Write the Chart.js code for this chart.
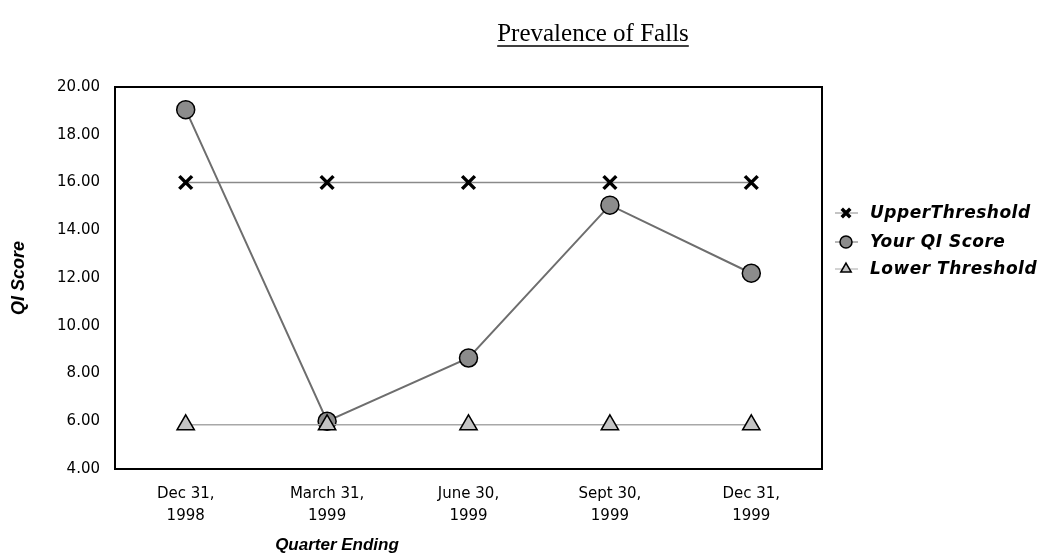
<!DOCTYPE html>
<html>
<head>
<meta charset="utf-8">
<script src="https://cdn.jsdelivr.net/npm/chart.js@4"></script>
<style>
  html, body { margin: 0; padding: 0; background: #fff; }
  #wrap { width: 1048px; height: 560px; }
</style>
</head>
<body>
<div id="wrap"><canvas id="falls-chart"></canvas></div>
<script>
var quarters = [['Dec 31,', '1998'], ['March 31,', '1999'], ['June 30,', '1999'], ['Sept 30,', '1999'], ['Dec 31,', '1999']];
var upperThreshold = [16, 16, 16, 16, 16];
var yourScore = [19.05, 6.0, 8.65, 15.05, 12.2];
var lowerThreshold = [5.85, 5.85, 5.85, 5.85, 5.85];
var seriesNames = ['UpperThreshold', 'Your QI Score', 'Lower Threshold'];

(function() {
  var ctx = document.getElementById('falls-chart').getContext('2d');

  // title, x title, plot frame and legend drawn on top
  var extras = {
    id: 'extras',
    afterDatasetsDraw: function(chart) {
      var c = chart.ctx, a = chart.chartArea;
      c.save();
      c.strokeStyle = '#000';
      c.lineWidth = 2;
      c.strokeRect(a.left, a.top, a.right - a.left, a.bottom - a.top);

      c.fillStyle = '#000';
      c.font = '25px "Liberation Serif", serif';
      c.textAlign = 'center';
      c.textBaseline = 'alphabetic';
      var t = 'Prevalence of Falls', tx = 593, w = c.measureText(t).width;
      c.fillText(t, tx, 41);
      c.lineWidth = 1.5;
      c.beginPath();
      c.moveTo(tx - w / 2, 46);
      c.lineTo(tx + w / 2, 46);
      c.stroke();

      c.font = 'italic bold 17px "Liberation Sans", Arial, sans-serif';
      c.textBaseline = 'middle';
      c.fillText('Quarter Ending', 337, 545);

      // legend
      c.font = 'italic bold 17px "DejaVu Sans", sans-serif';
      c.letterSpacing = '0.5px';
      c.textAlign = 'left';
      var ys = [213, 242, 269];
      chart.data.datasets.forEach(function(ds, i) {
        c.strokeStyle = ds.borderColor;
        c.lineWidth = 1;
        c.beginPath();
        c.moveTo(835, ys[i]);
        c.lineTo(858, ys[i]);
        c.stroke();
        c.fillStyle = ds.pointBackgroundColor;
        c.strokeStyle = '#000';
        c.lineWidth = ds.pointBorderWidth;
        Chart.helpers.drawPoint(c, { pointStyle: ds.pointStyle, radius: 6, borderWidth: ds.pointBorderWidth }, 846, ys[i]);
        c.fillStyle = '#000';
        c.fillText(ds.label, 870, ys[i] + 1);
      });
      c.restore();
    }
  };

  new Chart(ctx, {
    type: 'line',
    data: {
      labels: quarters,
      datasets: [
        {
          label: seriesNames[0],
          data: upperThreshold,
          borderColor: '#8a8a8a',
          borderWidth: 1.5,
          pointStyle: 'crossRot',
          pointRadius: 9,
          pointBorderWidth: 3.5,
          pointBorderColor: '#000',
          pointBackgroundColor: '#000',
          order: 2
        },
        {
          label: seriesNames[1],
          data: yourScore,
          borderColor: '#6e6e6e',
          borderWidth: 2,
          pointStyle: 'circle',
          pointRadius: 9,
          pointBorderWidth: 1.5,
          pointBorderColor: '#000',
          pointBackgroundColor: '#8c8c8c',
          order: 1
        },
        {
          label: seriesNames[2],
          data: lowerThreshold,
          borderColor: '#a8a8a8',
          borderWidth: 1.5,
          pointStyle: 'triangle',
          pointRadius: 10,
          pointBorderWidth: 1.5,
          pointBorderColor: '#000',
          pointBackgroundColor: '#c4c4c4',
          order: 0
        }
      ]
    },
    options: {
      responsive: true,
      maintainAspectRatio: false,
      animation: false,
      layout: { padding: { top: 87, right: 226, left: 0, bottom: 0 } },
      plugins: {
        legend: { display: false },
        tooltip: { enabled: false },
        title: { display: false }
      },
      scales: {
        x: {
          offset: true,
          grid: { display: false },
          border: { display: false },
          ticks: {
            color: '#000',
            padding: 6,
            maxRotation: 0,
            autoSkip: false,
            font: { family: '"DejaVu Sans", sans-serif', size: 15, lineHeight: 1.45 }
          },
          afterFit: function(scale) { scale.height = 91; }
        },
        y: {
          min: 4,
          max: 20,
          grid: { display: false },
          border: { display: false },
          ticks: {
            stepSize: 2,
            color: '#000',
            padding: 7,
            font: { family: '"DejaVu Sans", sans-serif', size: 15 },
            callback: function(v) { return v.toFixed(2); }
          },
          title: {
            display: true,
            text: 'QI Score',
            color: '#000',
            padding: { top: 8, bottom: 0 },
            font: { family: '"Liberation Sans", Arial, sans-serif', size: 18, style: 'italic', weight: 'bold' }
          },
          afterFit: function(scale) { scale.width = 115; }
        }
      }
    },
    plugins: [extras]
  });
})();
</script>
</body>
</html>
